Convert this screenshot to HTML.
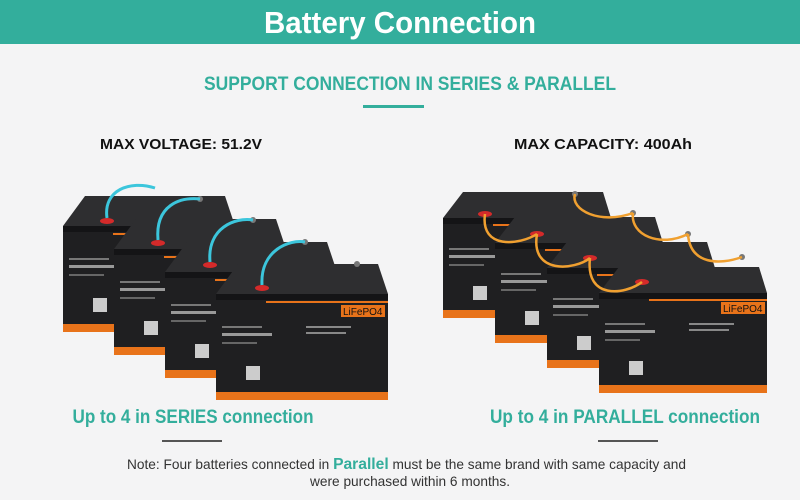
<!DOCTYPE html>
<html><head><meta charset="utf-8"><style>
html,body{margin:0;padding:0;background:#f4f4f5;}
svg{display:block;}
</style></head><body>
<svg width="800" height="500" viewBox="0 0 800 500" xmlns="http://www.w3.org/2000/svg" font-family="'Liberation Sans Narrow','Liberation Sans',sans-serif">
<defs>
  <g id="bs">
    <polygon points="0,0 22,-30 162,-30 172,0" fill="#2e2e30"/>
    <polygon points="0,0 172,0 172,6 0,6" fill="#141416"/>
    <polygon points="0,6 172,6 172,106 0,106" fill="#1f1f21"/>
    <rect x="50" y="7" width="122" height="2" fill="#e8731a"/>
    <rect x="125" y="11" width="44" height="12" fill="#e8731a"/>
    <text x="127" y="21" font-size="10" fill="#111" font-family="'Liberation Sans',sans-serif">LiFePO4</text>
    <rect x="6" y="32" width="40" height="2" fill="#777"/>
    <rect x="6" y="39" width="50" height="3" fill="#999"/>
    <rect x="6" y="48" width="35" height="2" fill="#666"/>
    <rect x="90" y="32" width="45" height="2" fill="#888"/>
    <rect x="90" y="38" width="40" height="2" fill="#888"/>
    <rect x="30" y="72" width="14" height="14" fill="#ccc"/>
    <rect x="0" y="98" width="172" height="8" fill="#e8731a"/>
  </g>
  <g id="bp">
    <polygon points="0,0 20,-26 160,-26 168,0" fill="#2e2e30"/>
    <polygon points="0,0 168,0 168,6 0,6" fill="#141416"/>
    <polygon points="0,6 168,6 168,100 0,100" fill="#1f1f21"/>
    <rect x="50" y="6" width="118" height="2" fill="#e8731a"/>
    <rect x="122" y="9" width="44" height="12" fill="#e8731a"/>
    <text x="124" y="19" font-size="10" fill="#111" font-family="'Liberation Sans',sans-serif">LiFePO4</text>
    <rect x="6" y="30" width="40" height="2" fill="#777"/>
    <rect x="6" y="37" width="50" height="3" fill="#999"/>
    <rect x="6" y="46" width="35" height="2" fill="#666"/>
    <rect x="90" y="30" width="45" height="2" fill="#888"/>
    <rect x="90" y="36" width="40" height="2" fill="#888"/>
    <rect x="30" y="68" width="14" height="14" fill="#ccc"/>
    <rect x="0" y="92" width="168" height="8" fill="#e8731a"/>
  </g>
</defs>
<rect x="0" y="0" width="800" height="44" fill="#33ae9c"/>
<text x="400" y="33" text-anchor="middle" font-size="31" font-weight="bold" fill="#fff" textLength="272" lengthAdjust="spacingAndGlyphs">Battery Connection</text>
<text x="410" y="90" text-anchor="middle" font-size="19" font-weight="bold" fill="#33ae9c" textLength="412" lengthAdjust="spacingAndGlyphs">SUPPORT CONNECTION IN SERIES &amp; PARALLEL</text>
<rect x="363" y="105" width="61" height="3" fill="#33ae9c"/>
<text x="100" y="149" font-size="15" font-weight="bold" fill="#111" font-family="'Liberation Sans',sans-serif" textLength="162" lengthAdjust="spacingAndGlyphs">MAX VOLTAGE: 51.2V</text>
<text x="514" y="149" font-size="15" font-weight="bold" fill="#111" font-family="'Liberation Sans',sans-serif" textLength="178" lengthAdjust="spacingAndGlyphs">MAX CAPACITY:  400Ah</text>

<use href="#bs" x="63" y="226"/>
<use href="#bs" x="114" y="249"/>
<use href="#bs" x="165" y="272"/>
<use href="#bs" x="216" y="294"/>
<g fill="#d42a2a"><ellipse cx="107" cy="221" rx="7" ry="3"/><ellipse cx="158" cy="243" rx="7" ry="3"/><ellipse cx="210" cy="265" rx="7" ry="3"/><ellipse cx="262" cy="288" rx="7" ry="3"/></g>
<g fill="#777"><circle cx="200" cy="199" r="3"/><circle cx="253" cy="220" r="3"/><circle cx="305" cy="242" r="3"/><circle cx="357" cy="264" r="3"/></g>
<g fill="none" stroke="#3cc6dc" stroke-width="3">
  <path d="M107,218 C103,190 130,180 155,188"/>
  <path d="M158,240 C155,205 180,197 200,199"/>
  <path d="M210,262 C207,228 235,217 253,220"/>
  <path d="M262,285 C260,250 290,239 305,242"/>
</g>

<use href="#bp" x="443" y="218"/>
<use href="#bp" x="495" y="243"/>
<use href="#bp" x="547" y="268"/>
<use href="#bp" x="599" y="293"/>
<g fill="#d42a2a"><ellipse cx="485" cy="214" rx="7" ry="3"/><ellipse cx="537" cy="234" rx="7" ry="3"/><ellipse cx="590" cy="258" rx="7" ry="3"/><ellipse cx="642" cy="282" rx="7" ry="3"/></g>
<g fill="#777"><circle cx="575" cy="194" r="3"/><circle cx="633" cy="213" r="3"/><circle cx="688" cy="234" r="3"/><circle cx="742" cy="257" r="3"/></g>
<g fill="none" stroke="#f0a030" stroke-width="2.5">
  <path d="M485,214 C480,250 520,245 537,234"/>
  <path d="M537,234 C530,275 575,270 590,258"/>
  <path d="M590,258 C585,300 625,295 642,282"/>
  <path d="M575,194 C570,210 600,225 633,213"/>
  <path d="M633,213 C630,235 660,248 688,234"/>
  <path d="M688,234 C690,265 720,265 742,257"/>
</g>

<text x="193" y="423" text-anchor="middle" font-size="19" font-weight="bold" fill="#33ae9c" textLength="241" lengthAdjust="spacingAndGlyphs">Up to 4 in SERIES connection</text>
<text x="625" y="423" text-anchor="middle" font-size="19" font-weight="bold" fill="#33ae9c" textLength="270" lengthAdjust="spacingAndGlyphs">Up to 4 in PARALLEL connection</text>
<rect x="162" y="440" width="60" height="2" fill="#555"/>
<rect x="598" y="440" width="60" height="2" fill="#555"/>
<text x="127" y="469" font-size="14" fill="#333" textLength="559" lengthAdjust="spacingAndGlyphs">Note: Four batteries connected in <tspan font-weight="bold" fill="#33ae9c" font-size="16">Parallel</tspan> must be the same brand with same capacity and</text>
<text x="410" y="486" text-anchor="middle" font-size="14" fill="#333" textLength="200" lengthAdjust="spacingAndGlyphs">were purchased within 6 months.</text>
</svg>
</body></html>
